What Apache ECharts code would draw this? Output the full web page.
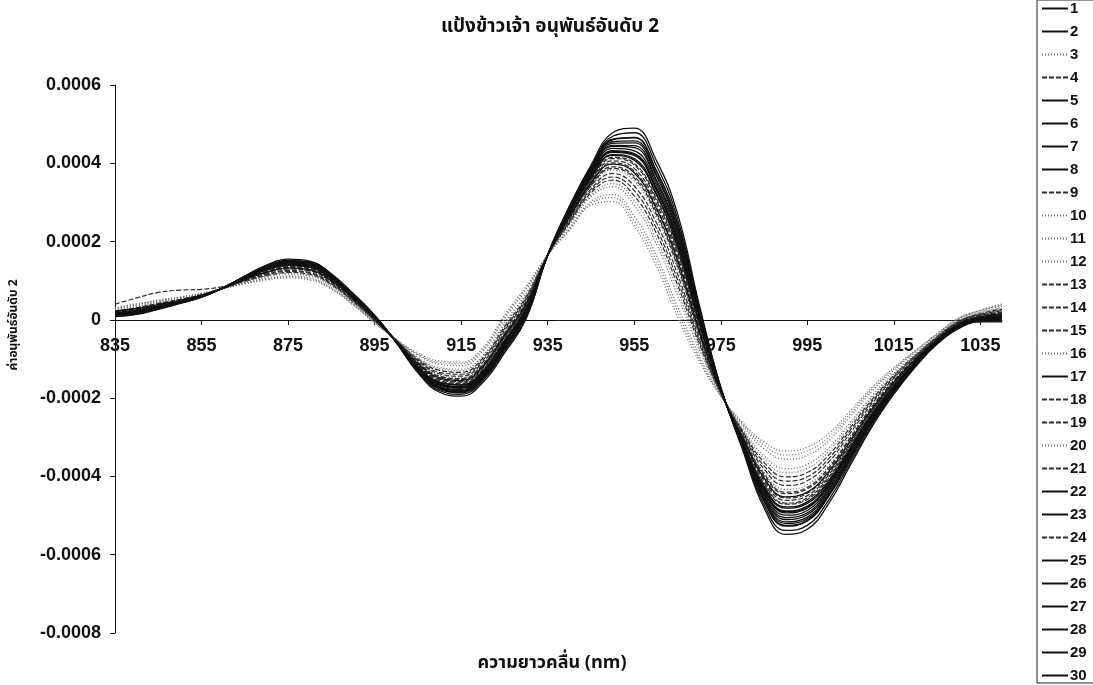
<!DOCTYPE html>
<html>
<head>
<meta charset="utf-8">
<script src="https://cdn.jsdelivr.net/npm/echarts@6/dist/echarts.min.js"></script>
<style>
html,body{margin:0;padding:0;background:#fff;}
#chart{width:1093px;height:685px;}
</style>
</head>
<body>
<div id="chart"></div>
<script>
// Wavelength categories (nm)
const wavelengths = [835,840,845,850,855,860,865,870,875,880,885,890,895,900,905,910,915,920,925,930,935,940,945,950,955,960,965,970,975,980,985,990,995,1000,1005,1010,1015,1020,1025,1030,1035,1040];

// Second-derivative values, in units of 1e-6
const s1  = [15,21,32,44,59,82,109,134,148,143,113,64,9,-57,-128,-174,-183,-148,-72,13,166,282,382,455,457,375,237,21,-175,-321,-458,-520,-508,-445,-352,-259,-181,-115,-58,-18,-1,2];
const s2  = [14,20,32,45,60,82,108,132,145,140,110,62,8,-56,-125,-169,-178,-142,-66,19,165,278,374,443,440,356,219,11,-177,-316,-446,-505,-493,-432,-342,-252,-176,-112,-57,-17,1,4];
const s3  = [30,40,50,58,68,80,92,102,107,102,78,38,-8,-50,-85,-105,-108,-72,12,85,165,228,292,302,240,140,8,-105,-195,-262,-312,-335,-325,-290,-232,-172,-122,-78,-35,5,25,40];
const s4  = [40,56,70,76,78,85,99,113,121,116,90,47,-2,-52,-100,-129,-134,-98,-18,59,165,247,324,357,317,224,90,-60,-188,-283,-364,-401,-390,-345,-274,-203,-142,-91,-43,-4,16,27];
const s5  = [17,24,35,47,61,81,106,129,141,136,106,59,6,-56,-121,-162,-170,-135,-58,26,165,272,366,428,420,334,198,1,-179,-311,-433,-488,-476,-418,-331,-244,-171,-108,-54,-14,4,8];
const s6  = [10,15,28,42,58,82,112,140,155,150,118,68,12,-58,-135,-185,-195,-160,-85,2,165,290,395,478,490,410,272,40,-172,-330,-480,-548,-535,-468,-370,-272,-190,-120,-62,-22,-5,-5];
const s7  = [18,25,36,48,62,81,105,127,139,134,105,58,5,-56,-119,-159,-166,-131,-53,30,165,270,361,420,408,322,185,-7,-180,-308,-425,-478,-465,-410,-325,-239,-168,-106,-53,-13,5,10];
const s8  = [14,20,31,45,60,83,111,137,151,146,115,66,11,-56,-129,-176,-185,-150,-74,11,168,288,388,462,466,384,247,27,-174,-322,-462,-525,-512,-448,-355,-261,-182,-115,-58,-18,-1,2];
const s9  = [22,30,41,52,64,81,100,117,126,121,94,50,0,-53,-105,-138,-144,-108,-28,51,165,253,334,374,342,251,117,-46,-186,-290,-381,-423,-411,-363,-288,-213,-149,-95,-46,-6,13,22];
const s10 = [32,41,50,58,67,80,93,104,110,105,80,40,-7,-50,-88,-109,-112,-76,7,81,166,231,297,312,252,154,21,-98,-194,-265,-320,-345,-335,-299,-239,-177,-125,-80,-36,4,24,38];
const s11 = [21,29,40,51,64,81,101,119,129,124,96,51,1,-53,-108,-141,-148,-112,-32,48,165,256,339,383,355,264,130,-40,-185,-293,-389,-433,-421,-372,-295,-218,-152,-97,-47,-7,11,20];
const s12 = [25,33,44,54,65,80,97,112,119,114,88,45,-3,-52,-98,-125,-130,-94,-13,64,165,244,318,348,305,210,77,-67,-189,-280,-356,-390,-379,-336,-267,-198,-140,-89,-42,-2,18,29];
const s13 = [19,26,38,49,62,81,103,123,134,129,101,55,3,-54,-113,-150,-157,-121,-42,38,165,262,350,401,380,291,156,-24,-182,-300,-406,-455,-443,-390,-310,-228,-160,-101,-50,-10,8,15];
const s14 = [17,25,37,48,62,81,104,126,137,132,103,57,4,-55,-116,-155,-162,-127,-48,34,165,266,356,412,396,308,172,-14,-181,-305,-417,-468,-455,-401,-318,-234,-164,-104,-52,-12,6,12];
const s15 = [20,28,39,50,63,81,102,121,131,126,98,53,2,-54,-110,-145,-152,-116,-37,43,165,259,344,391,367,278,143,-31,-184,-296,-398,-444,-432,-381,-302,-223,-156,-99,-49,-9,10,18];
const s16 = [28,38,48,56,67,80,94,106,112,107,82,41,-6,-51,-90,-113,-117,-81,2,77,165,234,302,320,265,167,34,-90,-193,-269,-329,-356,-346,-308,-246,-182,-129,-82,-38,2,22,35];
const s17 = [16,23,35,47,61,81,107,130,142,138,108,60,7,-56,-122,-164,-173,-137,-60,24,165,274,368,432,425,340,204,3,-178,-312,-437,-493,-481,-422,-334,-246,-173,-109,-55,-15,3,7];
const s18 = [23,31,42,52,64,80,99,115,124,119,92,49,-1,-52,-103,-134,-139,-103,-23,55,165,250,329,365,330,237,103,-53,-187,-286,-373,-412,-401,-354,-281,-208,-146,-93,-45,-5,14,24];
const s19 = [18,25,37,48,62,81,104,125,136,131,102,56,4,-55,-115,-152,-159,-124,-45,36,165,264,353,406,387,299,163,-19,-181,-302,-411,-461,-449,-395,-314,-231,-162,-103,-51,-11,7,13];
const s20 = [27,35,46,55,66,80,96,110,117,112,86,44,-4,-52,-96,-122,-126,-91,-8,68,165,241,314,340,293,197,63,-75,-190,-277,-347,-380,-369,-327,-261,-193,-136,-87,-41,0,19,31];
const s21 = [21,28,38,49,62,81,105,126,138,133,104,57,5,-55,-117,-156,-163,-128,-50,32,165,268,358,415,400,313,177,-11,-180,-306,-420,-471,-459,-404,-320,-236,-165,-105,-52,-12,6,11];
const s22 = [16,22,33,45,60,82,108,133,146,141,111,62,8,-56,-126,-171,-180,-144,-68,17,165,279,376,446,445,361,224,14,-177,-318,-450,-510,-498,-436,-345,-254,-178,-113,-57,-17,1,4];
const s23 = [18,24,34,46,60,81,107,131,143,139,109,61,7,-56,-124,-167,-175,-140,-63,21,164,276,371,438,432,348,211,7,-178,-314,-441,-499,-487,-427,-338,-249,-174,-110,-56,-16,2,6];
const s24 = [21,29,40,51,63,81,101,120,130,125,97,52,1,-53,-109,-144,-150,-114,-35,46,164,258,342,387,362,272,138,-36,-185,-295,-394,-440,-428,-377,-300,-221,-155,-98,-48,-8,11,19];
const s25 = [13,19,31,45,60,82,109,134,147,142,112,63,9,-57,-127,-173,-182,-147,-70,15,165,281,379,451,452,370,232,18,-176,-320,-455,-516,-504,-441,-349,-257,-180,-114,-58,-18,0,3];
const s26 = [16,23,35,47,61,81,105,128,140,135,105,58,5,-56,-119,-160,-167,-132,-55,28,165,270,363,422,412,326,190,-5,-179,-309,-428,-481,-469,-413,-327,-241,-169,-106,-53,-13,5,10];
const s27 = [12,18,30,44,59,82,110,136,150,145,114,65,10,-57,-130,-177,-186,-151,-75,10,165,284,385,460,465,383,246,26,-174,-323,-463,-527,-514,-450,-356,-262,-183,-116,-59,-19,-2,0];
const s28 = [11,17,29,43,58,82,111,138,152,148,116,66,11,-58,-132,-181,-190,-155,-80,6,165,287,390,469,478,397,259,33,-173,-327,-472,-538,-525,-459,-363,-267,-187,-118,-61,-21,-4,-3];
const s29 = [22,29,39,50,63,81,103,122,133,128,100,55,3,-54,-112,-148,-155,-119,-40,40,166,262,349,398,376,287,152,-27,-183,-300,-404,-452,-440,-387,-308,-227,-159,-101,-50,-10,8,15];
const s30 = [8,14,27,42,58,81,106,129,141,137,107,60,6,-56,-122,-163,-171,-136,-58,25,166,274,367,430,423,338,201,1,-179,-311,-435,-490,-478,-420,-332,-244,-171,-108,-54,-14,4,8];

const seriesNames = ['1','2','3','4','5','6','7','8','9','10','11','12','13','14','15','16','17','18','19','20','21','22','23','24','25','26','27','28','29','30'];
const seriesValues = [s1,s2,s3,s4,s5,s6,s7,s8,s9,s10,s11,s12,s13,s14,s15,s16,s17,s18,s19,s20,s21,s22,s23,s24,s25,s26,s27,s28,s29,s30];
const UNIT = 1e-6;

const titleText = 'แป้งข้าวเจ้า อนุพันธ์อันดับ 2';
const xTitle = 'ความยาวคลื่น (nm)';
const yTitle = 'ค่าอนุพันธ์อันดับ 2';

// line style codes per series: S solid black, D dashed dark grey, O dotted grey
const styleCodes = ['S','S','O','D','S','S','S','S','D','O','O','O','D','D','D','O','S','D','D','O','D','S','S','D','S','S','S','S','S','S'];
const styleMap = {
  S: {color:'#111111', width:1.3, type:'solid'},
  D: {color:'#2e2e2e', width:1.2, type:[5,2]},
  O: {color:'#6e6e6e', width:1.3, type:[1,2]}
};

const thaiFont = "'Noto Sans Thai','Noto Sans Thai Looped','Loma','Garuda','Tlwg Typo','DejaVu Sans','Liberation Sans',sans-serif";
const numFont = "'Liberation Sans',Arial,sans-serif";

const chart = echarts.init(document.getElementById('chart'), null, {renderer:'canvas'});

const series = seriesValues.map((vals, i) => ({
  name: seriesNames[i],
  type: 'line',
  data: vals.map(v => v * UNIT),
  smooth: 0.45,
  symbol: 'none',
  showSymbol: false,
  lineStyle: Object.assign({}, styleMap[styleCodes[i]]),
  itemStyle: {color: styleMap[styleCodes[i]].color},
  emphasis: {disabled: true},
  animation: false
}));

chart.setOption({
  backgroundColor: '#ffffff',
  animation: false,
  title: {
    text: titleText,
    left: 545,
    textAlign: 'center',
    top: 14,
    textStyle: {fontFamily: thaiFont, fontWeight: 'bold', fontSize: 19, color: '#111'}
  },
  grid: {left: 115, right: 91, top: 85, bottom: 52, containLabel: false},
  legend: {
    orient: 'vertical',
    left: 1037,
    top: 0,
    height: 684,
    padding: [1, 30, 0, 4],
    itemGap: 8,
    itemWidth: 26,
    itemHeight: 14,
    borderColor: '#222',
    borderWidth: 1,
    selectedMode: false,
    itemStyle: {opacity: 0, borderWidth: 0},
    data: seriesNames,
    textStyle: {fontFamily: numFont, fontWeight: 'bold', fontSize: 15, color: '#111', lineHeight: 14, padding: [0,0,0,-3]}
  },
  xAxis: {
    type: 'category',
    data: wavelengths,
    boundaryGap: false,
    offset: -313,
    axisLine: {onZero: false, lineStyle: {color: '#111', width: 1}},
    axisTick: {show: true, interval: 3, length: 5, inside: false, lineStyle: {color: '#111'}},
    axisLabel: {interval: 3, margin: 17, fontFamily: numFont, fontWeight: 'bold', fontSize: 18, color: '#111'},
    splitLine: {show: false}
  },
  yAxis: {
    type: 'value',
    min: -0.0008,
    max: 0.0006,
    interval: 0.0002,
    axisLine: {show: true, lineStyle: {color: '#111', width: 1}},
    axisTick: {show: true, length: 5, inside: false, lineStyle: {color: '#111'}},
    axisLabel: {
      margin: 14,
      fontFamily: numFont, fontWeight: 'bold', fontSize: 18, color: '#111',
      formatter: v => (Math.abs(v) < 1e-12 ? '0' : v.toFixed(4))
    },
    splitLine: {show: false}
  },
  graphic: [
    {
      type: 'text',
      x: 552, y: 664,
      style: {text: xTitle, font: "bold 18px " + thaiFont, fill: '#111', textAlign: 'center', textVerticalAlign: 'middle'}
    },
    {
      type: 'text',
      x: 15, y: 325,
      rotation: Math.PI / 2,
      style: {text: yTitle, font: "bold 12px " + thaiFont, fill: '#111', textAlign: 'center', textVerticalAlign: 'middle'}
    }
  ],
  series: series
});
</script>
</body>
</html>
